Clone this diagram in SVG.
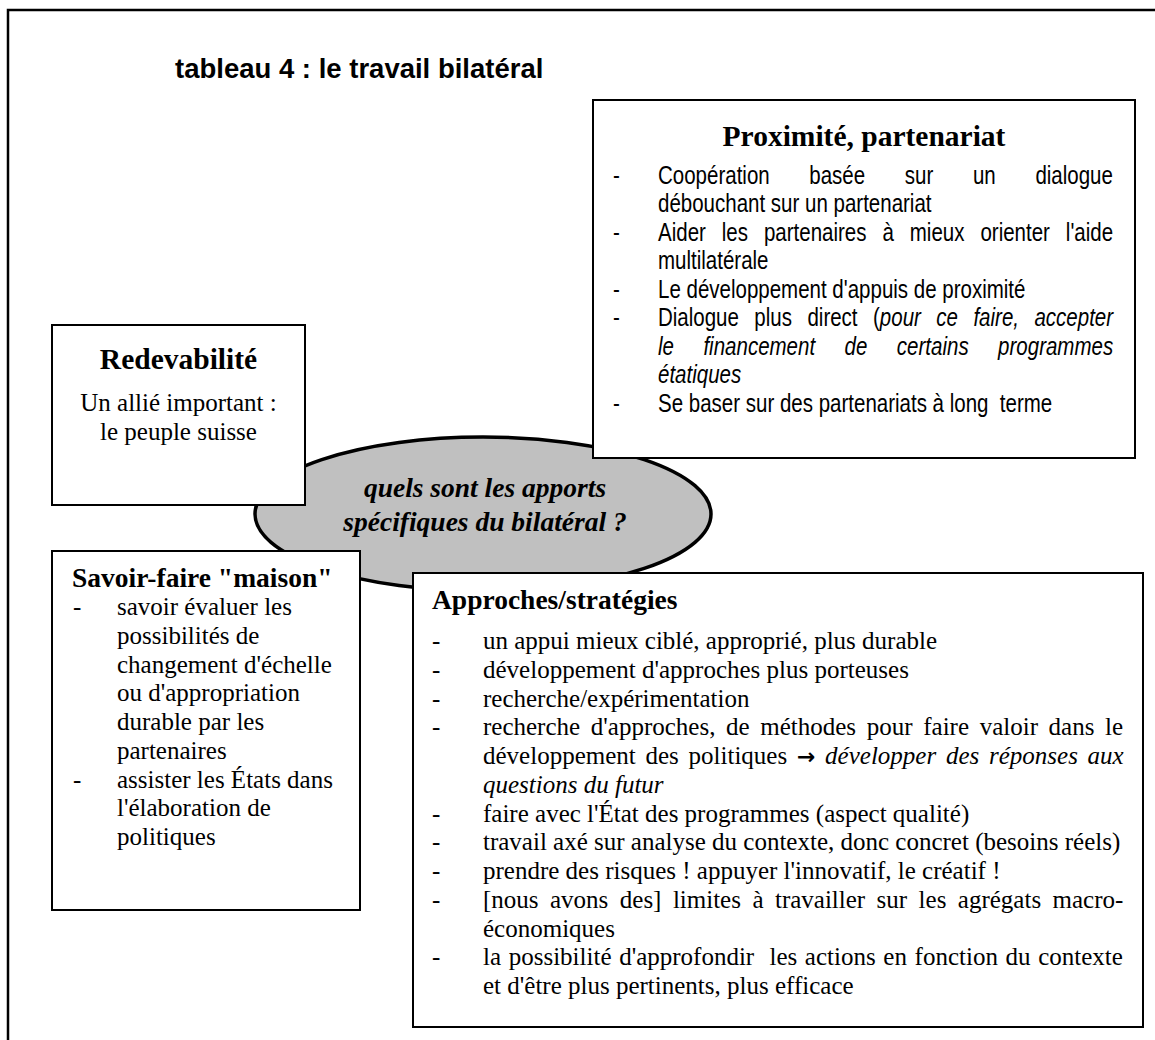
<svg xmlns="http://www.w3.org/2000/svg" width="1155" height="1040" viewBox="0 0 1155 1040">
<style>
.box{fill:#fff;stroke:#000;stroke-width:2}
.serif{font-family:"Liberation Serif","Times New Roman",serif;font-size:25px;fill:#000}
.head{font-family:"Liberation Serif","Times New Roman",serif;font-size:27.5px;font-weight:bold;fill:#000}
.big{font-size:29.5px}
.sans{font-family:"Liberation Sans",Arial,sans-serif;font-size:25px;fill:#000}
.it{font-style:italic}
.mid{text-anchor:middle}
.arrow{font-family:"DejaVu Sans",sans-serif;font-weight:bold;font-size:22px}
</style>
<rect x="8" y="10" width="1200" height="1100" fill="none" stroke="#000" stroke-width="2.5"/>
<text x="175" y="78" font-family="Liberation Sans, Arial, sans-serif" font-weight="bold" font-size="27.5">tableau 4 : le travail bilatéral</text>

<g id="question">
<ellipse cx="483" cy="514" rx="228" ry="77" fill="#c0c0c0" stroke="#000" stroke-width="3.5"/>
<text class="head it mid" x="485" y="497">quels sont les apports</text>
<text class="head it mid" x="485" y="531">spécifiques du bilatéral ?</text>
</g>

<g id="redevabilite">
<rect class="box" x="52" y="325" width="253" height="180"/>
<text class="head big mid" x="178.5" y="369">Redevabilité</text>
<text class="serif mid" x="178.5" y="411">Un allié important :</text>
<text class="serif mid" x="178.5" y="440">le peuple suisse</text>
</g>

<g id="proximite">
<rect class="box" x="593" y="100" width="542" height="358"/>
<text class="head big mid" x="864" y="146">Proximité, partenariat</text>
<g class="sans" transform="translate(658 0) scale(0.82 1)">
<text x="-54.9" y="184">-</text>
<text x="-54.9" y="241">-</text>
<text x="-54.9" y="298">-</text>
<text x="-54.9" y="326.5">-</text>
<text x="-54.9" y="412">-</text>
<text x="0" y="184" style="word-spacing:41.4px">Coopération basée sur un dialogue</text>
<text x="0" y="212.5">débouchant sur un partenariat</text>
<text x="0" y="241" style="word-spacing:12.5px">Aider les partenaires à mieux orienter l'aide</text>
<text x="0" y="269.5">multilatérale</text>
<text x="0" y="298">Le développement d'appuis de proximité</text>
<text x="0" y="326.5" style="word-spacing:11.9px">Dialogue plus direct (<tspan class="it">pour ce faire, accepter</tspan></text>
<text x="0" y="355" class="it" style="word-spacing:29px">le financement de certains programmes</text>
<text x="0" y="383.5" class="it">étatiques</text>
<text x="0" y="412">Se baser sur des partenariats à long&#160; terme</text>
</g>
</g>

<g id="savoir-faire">
<rect class="box" x="52" y="551" width="308" height="359"/>
<text class="head" x="72" y="587">Savoir-faire "maison"</text>
<g class="serif">
<text x="73" y="615">-</text>
<text x="73" y="787.5">-</text>
<text x="117" y="615">savoir évaluer les</text>
<text x="117" y="643.75">possibilités de</text>
<text x="117" y="672.5">changement d'échelle</text>
<text x="117" y="701.25">ou d'appropriation</text>
<text x="117" y="730">durable par les</text>
<text x="117" y="758.75">partenaires</text>
<text x="117" y="787.5">assister les États dans</text>
<text x="117" y="816.25">l'élaboration de</text>
<text x="117" y="845">politiques</text>
</g>
</g>

<g id="approches">
<rect class="box" x="413" y="573" width="730" height="454"/>
<text class="head" x="432" y="609">Approches/stratégies</text>
<g class="serif">
<text x="432" y="649">-</text>
<text x="432" y="677.75">-</text>
<text x="432" y="706.5">-</text>
<text x="432" y="735.25">-</text>
<text x="432" y="821.5">-</text>
<text x="432" y="850.25">-</text>
<text x="432" y="879">-</text>
<text x="432" y="907.75">-</text>
<text x="432" y="965.25">-</text>
<text x="483" y="649">un appui mieux ciblé, approprié, plus durable</text>
<text x="483" y="677.75">développement d'approches plus porteuses</text>
<text x="483" y="706.5">recherche/expérimentation</text>
<text x="483" y="735.25" style="word-spacing:4.4px">recherche d'approches, de méthodes pour faire valoir dans le</text>
<text x="483" y="764" style="word-spacing:3.5px">développement des politiques <tspan class="arrow">→</tspan> <tspan class="it">développer des réponses aux</tspan></text>
<text x="483" y="792.75" class="it">questions du futur</text>
<text x="483" y="821.5">faire avec l'État des programmes (aspect qualité)</text>
<text x="483" y="850.25">travail axé sur analyse du contexte, donc concret (besoins réels)</text>
<text x="483" y="879">prendre des risques ! appuyer l'innovatif, le créatif !</text>
<text x="483" y="907.75" style="word-spacing:5.2px">[nous avons des] limites à travailler sur les agrégats macro-</text>
<text x="483" y="936.5">économiques</text>
<text x="483" y="965.25" style="word-spacing:1.4px">la possibilité d'approfondir&#160; les actions en fonction du contexte</text>
<text x="483" y="994">et d'être plus pertinents, plus efficace</text>
</g>
</g>
</svg>
